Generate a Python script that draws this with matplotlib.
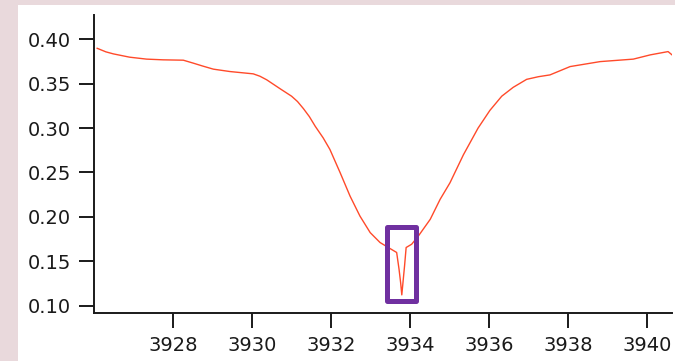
import matplotlib
matplotlib.use("Agg")
import matplotlib.pyplot as plt
from matplotlib.patches import Rectangle

# Spectrum (wavelength in Angstrom, relative flux)
wavelength = [3926.08, 3926.30, 3926.49, 3926.90, 3927.33, 3927.75, 3928.26, 3928.51,
              3928.75, 3929.02, 3929.44, 3930.03, 3930.20, 3930.37, 3930.71, 3931.00,
              3931.15, 3931.30, 3931.45, 3931.60, 3931.80, 3931.97, 3932.23, 3932.48,
              3932.73, 3932.99, 3933.24, 3933.49, 3933.66, 3933.72, 3933.76, 3933.79,
              3933.82, 3933.86, 3933.90, 3934.04, 3934.21, 3934.51, 3934.76, 3935.01,
              3935.35, 3935.72, 3936.02, 3936.32, 3936.61, 3936.95, 3937.25, 3937.54,
              3938.05, 3938.81, 3939.65, 3940.08, 3940.53, 3940.63]
flux = [0.390, 0.386, 0.3837, 0.380, 0.3778, 0.377, 0.3766, 0.3733,
        0.370, 0.3665, 0.3638, 0.3612, 0.3585, 0.3545, 0.3444, 0.336,
        0.330, 0.322, 0.313, 0.302, 0.289, 0.276, 0.2497, 0.2234,
        0.2009, 0.1822, 0.171, 0.1643, 0.1598, 0.141, 0.126, 0.112,
        0.126, 0.1447, 0.1654, 0.1691, 0.1784, 0.1972, 0.2197, 0.2384,
        0.270, 0.300, 0.320, 0.336, 0.346, 0.355, 0.358, 0.360,
        0.3694, 0.375, 0.3778, 0.3826, 0.3863, 0.3826]

x_ticks = [3928, 3930, 3932, 3934, 3936, 3938, 3940]
y_ticks = [0.10, 0.15, 0.20, 0.25, 0.30, 0.35, 0.40]

# highlighted narrow absorption feature (data coords)
box_x = (3933.41, 3934.15)
box_y = (0.1053, 0.1888)

fig = plt.figure(figsize=(6.75, 3.61), dpi=100, facecolor="#e9d9dc")

# white panel on top of the pink backdrop
bg = fig.add_axes([0.026, 0.0, 0.974, 0.986])
bg.set_facecolor("white")
bg.set_axis_off()
bg.add_patch(Rectangle((0, 0), 1, 1, transform=bg.transAxes,
                       facecolor="white", edgecolor="none"))

ax = fig.add_axes([0.1393, 0.1338, 0.8563, 0.826])
ax.set_facecolor("none")
ax.set_zorder(2)

ax.plot(wavelength, flux, color="#ff4a2a", lw=1.0)

ax.add_patch(Rectangle((box_x[0], box_y[0]), box_x[1] - box_x[0], box_y[1] - box_y[0],
                       fill=False, edgecolor="#7030a0", lw=3.6, joinstyle="round",
                       clip_on=False, zorder=3))

ax.set_xlim(3926.0, 3940.63)
ax.set_ylim(0.0919, 0.4281)
ax.set_xticks(x_ticks)
ax.set_yticks(y_ticks)
ax.set_xticklabels([str(t) for t in x_ticks])
ax.set_yticklabels([f"{t:.2f}" for t in y_ticks])

ax.spines["top"].set_visible(False)
ax.spines["right"].set_visible(False)
for s in ["left", "bottom"]:
    ax.spines[s].set_linewidth(1.4)
    ax.spines[s].set_color("#1a1a1a")
ax.tick_params(direction="out", length=10.5, width=1.4, color="#1a1a1a",
               labelsize=14, pad=6, labelcolor="#1a1a1a")

fig.savefig("out.png", dpi=100, facecolor=fig.get_facecolor())
